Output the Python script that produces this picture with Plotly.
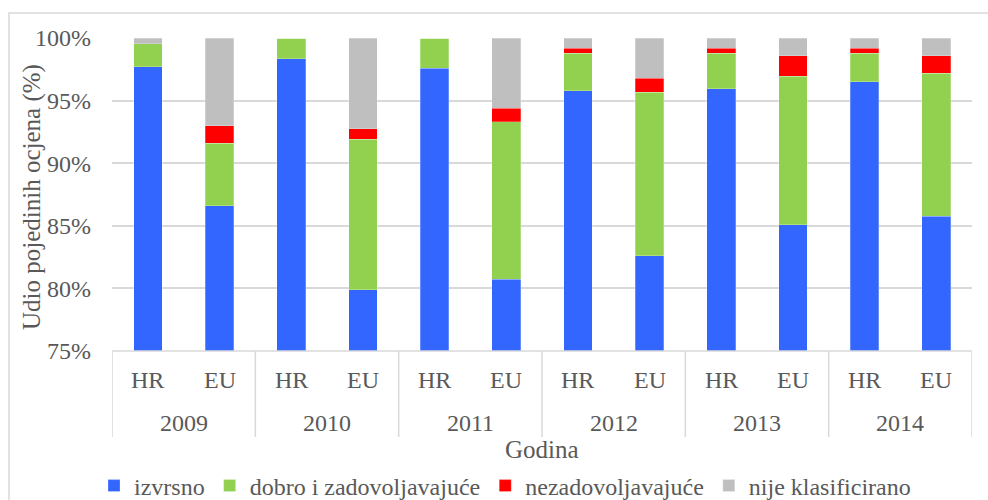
import plotly.graph_objects as go

# Share of bathing-water quality grades, Croatia (HR) vs EU average
years = ["2009", "2009", "2010", "2010", "2011", "2011",
         "2012", "2012", "2013", "2013", "2014", "2014"]
regions = ["HR", "EU"] * 6

izvrsno = [97.7, 86.6, 98.35, 79.9, 97.6, 80.75, 95.8, 82.6, 95.95, 85.1, 96.5, 85.75]
dobro = [1.85, 5.0, 1.65, 12.0, 2.4, 12.57, 3.0, 13.05, 2.85, 11.86, 2.3, 11.43]
nezadovoljavajuce = [0.0, 1.4, 0.0, 0.85, 0.0, 1.06, 0.4, 1.15, 0.4, 1.63, 0.4, 1.41]
nije_klasificirano = [0.45, 7.0, 0.0, 7.25, 0.0, 5.62, 0.8, 3.2, 0.8, 1.41, 0.8, 1.41]

y_ticks = [75, 80, 85, 90, 95, 100]
y_ticktext = [f"{v}%" for v in y_ticks]

series = [
    ("izvrsno", izvrsno, "#3366ff"),
    ("dobro i zadovoljavajuće", dobro, "#92d050"),
    ("nezadovoljavajuće", nezadovoljavajuce, "#ff0000"),
    ("nije klasificirano", nije_klasificirano, "#bfbfbf"),
]

FAMILY = "Liberation Serif"
TXT = "#595959"
GRID = "#d9d9d9"


def font(size):
    return dict(family=FAMILY, size=size, color=TXT)


# one category per (year, region) pair
categories = [f"{y} {r}" for y, r in zip(years, regions)]
year_groups = list(dict.fromkeys(years))

fig = go.Figure()
for name, vals, color in series:
    fig.add_trace(go.Bar(
        x=categories, y=vals, name=name,
        marker=dict(color=color, line=dict(color="rgba(255,255,255,0.5)", width=0.5)),
        width=0.4,
    ))

# plot area in pixels: x 112..972, y 38..351
L, R, T, B = 112, 16, 38, 149
W, H = 988 - L - R, 500 - T - B


def px_x(p):
    return (p - L) / W


def px_y(p):
    return (500 - B - p) / H


annotations = [
    dict(text="Udio pojedinih ocjena (%)", textangle=-90,
         xref="paper", yref="paper", x=px_x(32), y=px_y(197),
         xanchor="center", yanchor="middle", showarrow=False, font=font(25)),
    dict(text="Godina",
         xref="paper", yref="paper", x=px_x(542), y=px_y(449),
         xanchor="center", yanchor="middle", showarrow=False, font=font(25)),
]
# two-level category labels: region under each bar, year under each pair
for i, reg in enumerate(regions):
    annotations.append(dict(
        text=reg, xref="x", yref="paper", x=i, y=px_y(380),
        xanchor="center", yanchor="middle", showarrow=False, font=font(24)))
for g, yr in enumerate(year_groups):
    annotations.append(dict(
        text=yr, xref="x", yref="paper", x=2 * g + 0.5, y=px_y(423),
        xanchor="center", yanchor="middle", showarrow=False, font=font(24)))

shapes = [
    # outer chart frame
    dict(type="rect", xref="paper", yref="paper",
         x0=px_x(9), x1=px_x(1000), y0=px_y(520), y1=px_y(13),
         line=dict(color=GRID, width=1.5), layer="below"),
    # bottom baseline
    dict(type="line", xref="paper", yref="paper",
         x0=0, x1=1, y0=0, y1=0, line=dict(color=GRID, width=1.5)),
]
# group dividers below the axis
for g in range(len(year_groups) + 1):
    shapes.append(dict(
        type="line", xref="x", yref="paper",
        x0=2 * g - 0.5, x1=2 * g - 0.5, y0=0, y1=px_y(437),
        line=dict(color=GRID, width=1.5)))

fig.update_layout(
    width=988, height=500,
    margin=dict(l=L, r=R, t=T, b=B, autoexpand=False),
    barmode="stack",
    paper_bgcolor="white", plot_bgcolor="white",
    font=font(24),
    showlegend=True,
    legend=dict(
        orientation="h", xref="container", yref="container",
        x=505 / 988, xanchor="center",
        y=(500 - 486) / 500, yanchor="middle",
        font=font(24), traceorder="normal",
        itemwidth=30, tracegroupgap=0,
    ),
    xaxis=dict(
        type="category", categoryorder="array", categoryarray=categories,
        range=[-0.5, len(categories) - 0.5],
        showgrid=False, showline=False, zeroline=False,
        showticklabels=False, ticks="", fixedrange=True,
    ),
    yaxis=dict(
        range=[75, 100], tickmode="array",
        tickvals=y_ticks, ticktext=y_ticktext,
        showgrid=True, gridcolor=GRID, gridwidth=1.5,
        zeroline=False, showline=False,
        tickfont=font(24),
        ticklabelstandoff=20,
        fixedrange=True,
    ),
    annotations=annotations,
    shapes=shapes,
)

fig.write_html("out.html")
